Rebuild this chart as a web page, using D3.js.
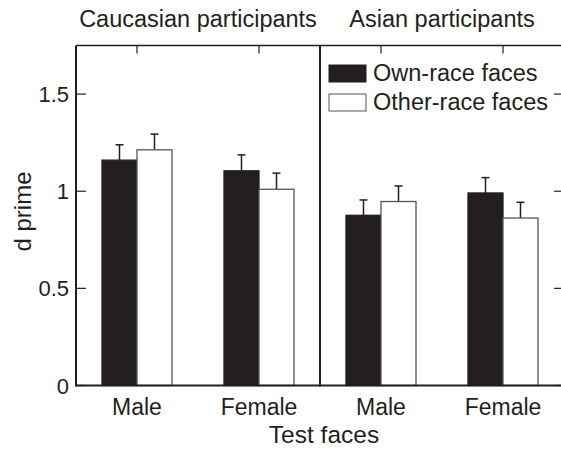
<!DOCTYPE html>
<html><head><meta charset="utf-8">
<script src="https://cdn.jsdelivr.net/npm/d3@7"></script>
<style>body{margin:0;background:#fff}svg{display:block}text{font-family:"Liberation Sans",Arial,sans-serif;fill:#231f20}</style>
</head><body><svg id="c" width="561" height="449"></svg>
<script>
const panels = ["Caucasian participants", "Asian participants"];
const categories = ["Male", "Female"];
const series = ["Own-race faces", "Other-race faces"];
// values[panel][category] = [own, other]
const caucasianMeans = [[1.16, 1.213], [1.105, 1.010]];
const caucasianErr   = [[0.079, 0.081], [0.082, 0.083]];
const asianMeans     = [[0.876, 0.947], [0.991, 0.862]];
const asianErr       = [[0.079, 0.080], [0.079, 0.081]];
const yTicks = [0, 0.5, 1, 1.5];
const yTickLabels = ["0", "0.5", "1", "1.5"];
const yTitle = "d prime";
const xTitle = "Test faces";

const means = [caucasianMeans, asianMeans];
const errs = [caucasianErr, asianErr];
const ink = "#231f20";

const svg = d3.select("#c");
const mLeft = 76, mTop = 45.5, mBottom = 385.5, panelW = 244;
const y = d3.scaleLinear().domain([0, 1.75]).range([mBottom, mTop]);
const x = d3.scalePoint().domain(categories).range([0, panelW]).padding(0.5);
const inner = d3.scaleBand().domain(series).range([-35, 35]).padding(0);

function txt(g, s, px, py, size, anchor) {
  return g.append("text").attr("x", px).attr("y", py)
    .attr("text-anchor", anchor || "middle")
    .style("font-size", size + "px").text(s);
}

panels.forEach((p, pi) => {
  const g = svg.append("g").attr("transform", `translate(${mLeft + pi * panelW},0)`);
  categories.forEach((c, ci) => {
    series.forEach((s, si) => {
      const v = means[pi][ci][si], e = errs[pi][ci][si];
      const bx = x(c) + inner(s);
      const cx = bx + inner.bandwidth() / 2;
      g.append("line").attr("x1", cx).attr("x2", cx).attr("y1", y(v)).attr("y2", y(v + e))
        .attr("stroke", ink).attr("stroke-width", 1.5);
      g.append("line").attr("x1", cx - 4).attr("x2", cx + 4).attr("y1", y(v + e)).attr("y2", y(v + e))
        .attr("stroke", ink).attr("stroke-width", 1.5);
      g.append("rect").attr("x", bx).attr("y", y(v)).attr("width", inner.bandwidth())
        .attr("height", y(0) - y(v))
        .attr("fill", si === 0 ? ink : "#fff")
        .attr("stroke", si === 0 ? ink : "#555").attr("stroke-width", 1.3);
    });
  });
  categories.forEach(c => {
    g.append("line").attr("x1", x(c)).attr("x2", x(c)).attr("y1", mTop).attr("y2", mTop + 8)
      .attr("stroke", ink).attr("stroke-width", 1.2);
  });
  g.append("line").attr("x1", 0).attr("x2", panelW).attr("y1", mTop).attr("y2", mTop)
    .attr("stroke", ink).attr("stroke-width", 1.3);
  g.append("line").attr("x1", 0).attr("x2", panelW).attr("y1", mBottom).attr("y2", mBottom)
    .attr("stroke", ink).attr("stroke-width", 2);
  g.append("line").attr("x1", 0).attr("x2", 0).attr("y1", mTop).attr("y2", mBottom + 1)
    .attr("stroke", ink).attr("stroke-width", 2);
  categories.forEach(c => txt(g, c, x(c), 415, 23));
  txt(g, p, panelW / 2, 27, 23.5);
});

const ax = svg.append("g");
yTicks.forEach((t, i) => {
  ax.append("line").attr("x1", mLeft).attr("x2", mLeft + 10).attr("y1", y(t)).attr("y2", y(t))
    .attr("stroke", ink).attr("stroke-width", 1.2);
  txt(ax, yTickLabels[i], mLeft - 7, y(t) + 8, 22, "end");
});
const rx = mLeft + 2 * panelW;
yTicks.forEach(t => {
  ax.append("line").attr("x1", rx - 10).attr("x2", rx).attr("y1", y(t)).attr("y2", y(t))
    .attr("stroke", ink).attr("stroke-width", 1.2);
});
svg.append("line").attr("x1", rx).attr("x2", rx).attr("y1", mTop).attr("y2", mBottom)
  .attr("stroke", ink).attr("stroke-width", 2);

svg.append("text").attr("transform", `translate(31,${(mTop + mBottom) / 2 - 4}) rotate(-90)`)
  .attr("text-anchor", "middle").style("font-size", "24px").text(yTitle);
txt(svg, xTitle, mLeft + panelW + 4, 443, 24.5);

const lg = svg.append("g").attr("transform", "translate(329,65)");
series.forEach((s, i) => {
  lg.append("rect").attr("x", 0).attr("y", i * 29).attr("width", 37).attr("height", 17)
    .attr("fill", i === 0 ? ink : "#fff").attr("stroke", i === 0 ? ink : "#555").attr("stroke-width", 1);
  txt(lg, s, 44, i * 29 + 16, 23.5, "start");
});
</script></body></html>
